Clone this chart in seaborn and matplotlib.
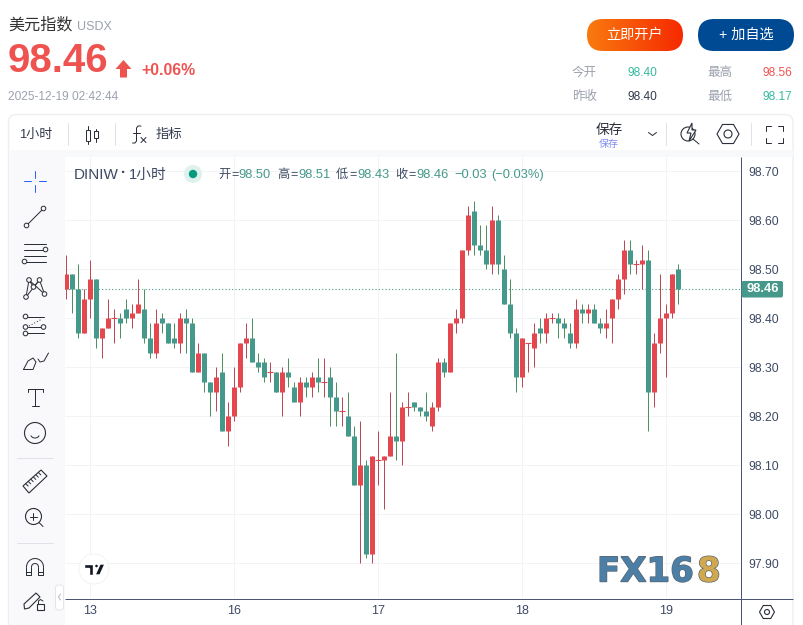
"""Recreates the USDX 1-hour candlestick quote card."""

import matplotlib
matplotlib.use("Agg")
import matplotlib.patheffects as pe
import matplotlib.pyplot as plt
import numpy as np
import pandas as pd
import seaborn as sns
from matplotlib.patches import Circle, FancyBboxPatch, Polygon, Rectangle, RegularPolygon

W, H = 804, 625

opens = [98.46, 98.49, 98.46, 98.37, 98.44, 98.48, 98.36, 98.38, 98.40, 98.40, 98.42, 98.40, 98.41,
         98.42, 98.36, 98.33, 98.40, 98.39, 98.36, 98.35, 98.40, 98.39, 98.29, 98.33, 98.27, 98.25,
         98.29, 98.17, 98.20, 98.26, 98.35, 98.36, 98.31, 98.31, 98.29, 98.29, 98.25, 98.29, 98.26,
         98.23, 98.27, 98.26, 98.28, 98.27, 98.28, 98.24, 98.21, 98.20, 98.16, 98.06, 98.10, 97.92,
         98.11, 98.11, 98.12, 98.16, 98.15, 98.22, 98.23, 98.22, 98.21, 98.18, 98.22, 98.31, 98.29,
         98.39, 98.40, 98.54, 98.62, 98.55, 98.54, 98.51, 98.60, 98.50, 98.43, 98.37, 98.28, 98.35,
         98.34, 98.38, 98.37, 98.40, 98.40, 98.39, 98.37, 98.35, 98.42, 98.41, 98.42, 98.39, 98.38,
         98.40, 98.44, 98.48, 98.54, 98.51, 98.51, 98.52, 98.25, 98.35, 98.40, 98.41, 98.50]
closes = [98.49, 98.46, 98.37, 98.44, 98.48, 98.36, 98.38, 98.40, 98.40, 98.39, 98.40, 98.41, 98.43,
          98.36, 98.33, 98.39, 98.39, 98.35, 98.35, 98.40, 98.39, 98.29, 98.33, 98.27, 98.25, 98.28,
          98.17, 98.20, 98.26, 98.35, 98.36, 98.31, 98.30, 98.28, 98.29, 98.25, 98.29, 98.28, 98.23,
          98.27, 98.26, 98.28, 98.27, 98.27, 98.24, 98.21, 98.21, 98.16, 98.06, 98.10, 97.92, 98.12,
          98.11, 98.12, 98.16, 98.15, 98.22, 98.22, 98.22, 98.21, 98.20, 98.22, 98.31, 98.29, 98.39,
          98.40, 98.54, 98.61, 98.55, 98.54, 98.51, 98.60, 98.51, 98.43, 98.37, 98.28, 98.36, 98.35,
          98.37, 98.37, 98.40, 98.40, 98.39, 98.38, 98.35, 98.42, 98.41, 98.42, 98.39, 98.38, 98.39,
          98.44, 98.48, 98.54, 98.51, 98.51, 98.52, 98.25, 98.35, 98.40, 98.41, 98.49, 98.46]
highs = [98.53, 98.49, 98.51, 98.46, 98.52, 98.48, 98.38, 98.44, 98.42, 98.41, 98.44, 98.43, 98.48,
         98.46, 98.39, 98.42, 98.41, 98.39, 98.39, 98.41, 98.42, 98.40, 98.35, 98.33, 98.27, 98.30,
         98.33, 98.23, 98.30, 98.35, 98.39, 98.40, 98.33, 98.32, 98.31, 98.29, 98.30, 98.32, 98.27,
         98.28, 98.28, 98.29, 98.32, 98.32, 98.30, 98.27, 98.24, 98.25, 98.18, 98.19, 98.11, 98.12,
         98.17, 98.12, 98.25, 98.33, 98.23, 98.25, 98.23, 98.22, 98.25, 98.23, 98.32, 98.32, 98.39,
         98.42, 98.54, 98.63, 98.64, 98.59, 98.59, 98.63, 98.61, 98.53, 98.48, 98.38, 98.36, 98.35,
         98.39, 98.40, 98.41, 98.41, 98.41, 98.40, 98.39, 98.44, 98.43, 98.43, 98.43, 98.40, 98.42,
         98.44, 98.49, 98.56, 98.56, 98.52, 98.55, 98.54, 98.37, 98.49, 98.43, 98.49, 98.51]
lows = [98.44, 98.41, 98.36, 98.37, 98.40, 98.34, 98.32, 98.38, 98.35, 98.36, 98.39, 98.38, 98.41,
        98.35, 98.32, 98.32, 98.37, 98.35, 98.34, 98.33, 98.33, 98.29, 98.29, 98.25, 98.20, 98.21,
        98.17, 98.14, 98.19, 98.25, 98.32, 98.31, 98.29, 98.27, 98.27, 98.25, 98.20, 98.26, 98.23,
        98.20, 98.24, 98.24, 98.25, 98.24, 98.18, 98.18, 98.18, 98.16, 98.06, 97.90, 97.91, 97.90,
        98.06, 98.01, 98.12, 98.11, 98.10, 98.20, 98.21, 98.20, 98.19, 98.17, 98.21, 98.28, 98.29,
        98.37, 98.39, 98.53, 98.53, 98.53, 98.50, 98.49, 98.49, 98.43, 98.36, 98.25, 98.26, 98.29,
        98.30, 98.35, 98.35, 98.39, 98.36, 98.36, 98.34, 98.34, 98.39, 98.39, 98.39, 98.37, 98.36,
        98.35, 98.42, 98.45, 98.49, 98.49, 98.46, 98.17, 98.22, 98.33, 98.28, 98.40, 98.43]

price_ticks = [98.70, 98.60, 98.50, 98.40, 98.30, 98.20, 98.10, 98.00, 97.90]
day_positions = [4, 28, 52, 76, 100]
day_labels = ["13", "16", "17", "18", "19"]

RED_BODY, RED_WICK = "#e5474e", "#b94a56"
GREEN_BODY, GREEN_WICK = "#45998a", "#4e9161"
INK = "#3e4a63"
ICON = "#2a2e39"
AXIS_LINE = "#4a5578"
GREY_TEXT = "#9ba1ad"
QUOTE_RED = "#ef5350"
QUOTE_GREEN = "#35b9a0"
FONTS = ["Liberation Sans", "Noto Sans CJK SC"]

sns.set_theme(
    style="whitegrid",
    rc={
        "grid.color": "#f2f3f5",
        "grid.linewidth": 0.72,
        "lines.solid_capstyle": "butt",
        "savefig.facecolor": "white",
    },
)
plt.rcParams["font.family"] = FONTS

fig = plt.figure(figsize=(W / 100, H / 100), dpi=100, facecolor="white")


def pixel_axes(left, top, right, bottom, **kws):
    return fig.add_axes([left / W, 1 - bottom / H, (right - left) / W, (bottom - top) / H], **kws)


# ---------------------------------------------------------------------------
# Candles
# ---------------------------------------------------------------------------

candles = pd.DataFrame({"open": opens, "close": closes, "high": highs, "low": lows})
candles["candle"] = candles.index
candles["direction"] = np.where(candles["close"] >= candles["open"], "up", "down")

wicks = candles.melt(id_vars=["candle", "direction"], value_vars=["high", "low"], value_name="price")
solid = candles[candles["open"] != candles["close"]]
bodies = solid.melt(id_vars=["candle", "direction"], value_vars=["open", "close"], value_name="price")
dojis = candles[candles["open"] == candles["close"]]

ax = pixel_axes(65, 157, 741, 598, zorder=1)
sns.lineplot(
    data=wicks, x="candle", y="price", hue="direction", units="candle", estimator=None,
    palette={"up": RED_WICK, "down": GREEN_WICK}, linewidth=0.72, legend=False, ax=ax,
)
sns.lineplot(
    data=bodies, x="candle", y="price", hue="direction", units="candle", estimator=None,
    palette={"up": RED_BODY, "down": GREEN_BODY}, linewidth=3.6, legend=False, ax=ax,
)
sns.scatterplot(data=dojis, x="candle", y="open", marker="_", s=20, color=RED_BODY, linewidth=0.8, ax=ax)

ax.axhline(closes[-1], color=GREEN_BODY, linewidth=0.8, linestyle=(0, (1, 2)), zorder=1.5)
ax.set_xlim(-0.25, 112.42)
ax.set_ylim(98.40 - (598 - 318.3) / 490, 98.40 + (318.3 - 157) / 490)
ax.set_xticks(day_positions, day_labels)
ax.set_yticks(price_ticks, [f"{p:.2f}" for p in price_ticks])
ax.yaxis.tick_right()
ax.set_xlabel("")
ax.set_ylabel("")
ax.tick_params(axis="x", length=0, pad=5, labelsize=9, labelcolor=INK)
ax.tick_params(axis="y", length=0, pad=5.2, labelsize=8.8, labelcolor=INK)
sns.despine(ax=ax, left=True, right=True, top=True, bottom=True)

# ---------------------------------------------------------------------------
# Page chrome, drawn on a full-size pixel overlay
# ---------------------------------------------------------------------------

ui = fig.add_axes([0, 0, 1, 1], zorder=2, facecolor="none")
ui.set_xlim(0, W)
ui.set_ylim(H, 0)
ui.axis("off")


def label(x, y, s, size, color, ha="left", weight="normal", family=FONTS):
    return ui.text(x, y, s, fontsize=size, color=color, ha=ha, va="center", fontweight=weight, family=family)


def seg(xs, ys, lw=1.0, color=ICON, **kws):
    ui.plot(xs, ys, color=color, linewidth=lw * 0.72, solid_capstyle="round", **kws)


def ring(x, y, r=2.3, lw=1.0, color=ICON, face="#f9f9fb"):
    ui.add_patch(Circle((x, y), r, facecolor=face, edgecolor=color, linewidth=lw * 0.72, zorder=4))


def pill(x0, y0, x1, y1, radius, face="none", edge="none", lw=0.72, zorder=2):
    patch = FancyBboxPatch(
        (x0, y0), x1 - x0, y1 - y0, boxstyle=f"round,pad=0,rounding_size={radius}",
        facecolor=face, edgecolor=edge, linewidth=lw, zorder=zorder,
    )
    ui.add_patch(patch)
    return patch


def hexagon(x, y, r, inner):
    ui.add_patch(RegularPolygon((x, y), 6, radius=r, orientation=np.pi / 6, facecolor="none",
                                edgecolor=ICON, linewidth=0.8))
    ui.add_patch(Circle((x, y), inner, facecolor="none", edgecolor=ICON, linewidth=0.8))


# panel frame and bands
pill(8.5, 114.5, 793, 640, 8, face="none", edge="#eceef1", lw=1.0, zorder=1)
ui.add_patch(Rectangle((9, 150), 784, 7, facecolor="#f8f9fa", edgecolor="none", zorder=1))
pill(9, 150, 65, 640, 6, face="#f9f9fb", zorder=1)
ui.add_patch(Rectangle((9, 155), 48, 470, facecolor="#f9f9fb", edgecolor="none", zorder=1))

# header
label(8, 25, "美元指数", 11.6, "#333333")
label(77, 26.5, "USDX", 9, GREY_TEXT)
label(7.5, 61.5, "98.46", 29, QUOTE_RED, weight="bold")
ui.add_patch(Polygon([(123.5, 60), (131.5, 69), (127, 69), (127, 77.5), (120, 77.5), (120, 69), (115.5, 69)],
                     facecolor=QUOTE_RED, edgecolor="none"))
label(141, 70.5, "+0.06%", 11.4, QUOTE_RED, weight="bold")
label(8, 97, "2025-12-19 02:42:44", 8.6, GREY_TEXT)

# buttons
gradient = np.linspace(0, 1, 96)[None, :, None]
start, stop = np.array([0.976, 0.478, 0.059]), np.array([0.965, 0.161, 0.0])
image = ui.imshow(start + gradient * (stop - start), extent=(587, 683, 51, 19), aspect="auto", zorder=2)
image.set_clip_path(pill(587, 19, 683, 51, 16, face="none"))
ui.set_xlim(0, W)
ui.set_ylim(H, 0)
label(635, 35, "立即开户", 10.2, "white", ha="center")
pill(698, 19, 794, 51, 16, face="#004a94")
label(746, 35, "+ 加自选", 10.2, "white", ha="center")

# day stats
for x, y, s, size, color in [
    (572, 73, "今开", 9, GREY_TEXT), (628, 73, "98.40", 8.6, QUOTE_GREEN),
    (707, 73, "最高", 9, GREY_TEXT), (763, 73, "98.56", 8.6, QUOTE_RED),
    (572, 97, "昨收", 9, GREY_TEXT), (628, 97, "98.40", 8.6, "#333a4d"),
    (707, 97, "最低", 9, GREY_TEXT), (763, 97, "98.17", 8.6, QUOTE_GREEN),
]:
    label(x, y, s, size, color)

# top toolbar
label(19, 135, "1小时", 9.4, "#333a4d")
label(156, 135, "指标", 9.6, "#333a4d")
label(609.5, 130, "保存", 9.8, "#2a2e39", ha="center")
label(609, 143.5, "保存", 7.2, "#7f8cf0", ha="center")
for x in (68.5, 115.5, 666.5, 751.5):
    seg([x, x], [123, 145], color="#dfe2e8")
for x0, top, bot, ytop, ybot in [(86.5, 126, 144, 130, 141), (94.5, 129, 142, 131, 138)]:
    seg([x0 + 2, x0 + 2], [top, bot])
    ui.add_patch(Rectangle((x0, ytop), 4, ybot - ytop, facecolor="white", edgecolor=ICON, linewidth=0.72, zorder=3))
seg([141, 138, 136.5, 136.5, 135, 132.5], [126, 126, 128, 141, 143, 143])
seg([133.5, 140], [133, 133])
seg([141, 146], [137.5, 142.5])
seg([146, 141], [137.5, 142.5])
seg([648.5, 652.5, 656.5], [132.5, 135.5, 132.5])
ui.add_patch(Circle((688, 134), 7, facecolor="none", edgecolor=ICON, linewidth=0.8))
ui.add_patch(Polygon([(692, 123), (687, 133), (691, 133), (689, 141), (696, 130), (692, 130)],
                     facecolor="white", edgecolor=ICON, linewidth=0.8, zorder=3))
seg([693, 699], [139, 144])
hexagon(728, 134, 11, 4)
for sx, sy in [(-1, -1), (1, -1), (-1, 1), (1, 1)]:
    cx, cy = 774.5 + sx * 8.5, 134 + sy * 8.5
    seg([cx, cx, cx - sx * 5], [cy - sy * 5, cy, cy])

# chart legend
label(74, 175, "DINIW", 11, INK)
label(121, 173, "·", 11, INK, weight="bold")
label(129, 175, "1小时", 10.6, INK)
ui.add_patch(Circle((193, 174), 9, facecolor="#dff1ed", edgecolor="none"))
ui.add_patch(Circle((193, 174), 4.2, facecolor="#089981", edgecolor="none"))
for x, s in [(218, "开"), (277, "高"), (336, "低"), (395, "收")]:
    label(x, 175, s, 8.8, INK)
for x, s in [(231, "="), (290, "="), (349, "="), (408, "=")]:
    label(x, 175, s, 9, INK)
for x, s in [(238, "98.50"), (298, "98.51"), (357, "98.43"), (416, "98.46"), (454, "−0.03"), (491, "(−0.03%)")]:
    label(x, 175, s, 9.3, GREEN_BODY)

# right and bottom scale edges
ui.plot([65, 793], [598.5, 598.5], color=AXIS_LINE, linewidth=0.72)
ui.plot([741.5, 741.5], [157, 625], color=AXIS_LINE, linewidth=0.72)
pill(741.5, 281, 783, 297.5, 2, face=GREEN_BODY, zorder=3)
label(763, 289.5, "98.46", 9.3, "white", ha="center", weight="bold").set_zorder(5)
hexagon(767, 612, 7.5, 2.5)

# watermark
shadow = [pe.withStroke(linewidth=1.0, foreground="#5b6470")]
label(597, 572, "FX16", 24.5, "#4c7fa6", weight="bold", family=["DejaVu Sans"]).set_path_effects(shadow)
label(697, 572, "8", 24.5, "#d0a850", weight="bold", family=["DejaVu Sans"]).set_path_effects(shadow)

# chart-library badge
ui.add_patch(Circle((94, 569), 15, facecolor="white", edgecolor="#eff0f3", linewidth=0.5, zorder=2))
ui.add_patch(Polygon([(84, 564), (93, 564), (93, 575), (89, 575), (89, 568), (84, 568)], facecolor="#131722", zorder=3))
ui.add_patch(Circle((96.5, 566), 2, facecolor="#131722", zorder=3))
ui.add_patch(Polygon([(100, 564), (105, 564), (100, 575), (95, 575)], facecolor="#131722", zorder=3))

# left drawing toolbar
seg([35.5, 35.5], [170.5, 177.5], color="#2962ff")
seg([35.5, 35.5], [184.5, 191.5], color="#2962ff")
seg([24.5, 31.5], [181, 181], color="#2962ff")
seg([39.5, 46.5], [181, 181], color="#2962ff")

seg([26.5, 43.5], [225.5, 208.5])
ring(26.5, 225.5)
ring(43.5, 208.5)

for y in (243.5, 249.5, 256, 262):
    seg([24, 46], [y, y])
ring(45.5, 249.5)
ring(24.5, 261.5)

pts = [(26, 297), (29, 280), (33.5, 287), (39.5, 280), (44.5, 294)]
seg([p[0] for p in pts], [p[1] for p in pts])
seg([29, 44.5], [280, 294])
seg([39.5, 26], [280, 297])
for p in pts:
    ring(*p)

seg([26, 44], [316.5, 316.5])
seg([26, 44], [333, 333])
seg([29, 42], [326, 319], linestyle=(0, (1, 2)))
seg([28, 44], [327, 327])
ring(25.5, 316.5)
ring(25.5, 327)
ring(25.5, 333.5)
ring(43.5, 327)

seg([23.5, 33, 36, 33, 28, 23.5], [369.5, 369.5, 362, 358, 361, 369.5])
seg([38, 40, 44, 48.5], [359, 362, 361, 353])

seg([28, 43], [388.5, 388.5])
seg([28, 28], [388.5, 391.5])
seg([43, 43], [388.5, 391.5])
seg([35.5, 35.5], [388.5, 405.5])
seg([32, 39], [405.5, 405.5])

ui.add_patch(Circle((35, 433), 10.5, facecolor="none", edgecolor=ICON, linewidth=0.8))
ui.add_patch(Circle((31, 431), 0.9, facecolor=ICON))
ui.add_patch(Circle((39, 431), 0.9, facecolor=ICON))
mouth = np.linspace(0.15, 0.85, 12) * np.pi
seg(35 + 4.5 * np.cos(mouth), 434 + 4 * np.sin(mouth))

seg([17, 53], [457.5, 457.5], color="#dfe2e8")
seg([17, 53], [542.5, 542.5], color="#dfe2e8")

ui.add_patch(Polygon([(23, 486), (41, 470), (47, 476), (29, 493)], facecolor="none", edgecolor=ICON, linewidth=0.8))
for t in np.linspace(0.15, 0.85, 6):
    x0, y0 = 23 + 18 * t, 486 - 16 * t
    seg([x0, x0 + 2.5], [y0, y0 + 2.5])

ui.add_patch(Circle((33.5, 516.5), 8, facecolor="none", edgecolor=ICON, linewidth=0.8))
seg([30, 37], [516.5, 516.5])
seg([33.5, 33.5], [513, 520])
seg([39, 43], [522.5, 526.5])

arch = np.linspace(np.pi, 2 * np.pi, 16)
seg(35 + 8.5 * np.cos(arch), 567 + 8.5 * np.sin(arch))
seg(35 + 3.5 * np.cos(arch), 567 + 3.5 * np.sin(arch))
seg([26.5, 26.5, 31.5, 31.5], [567, 575, 575, 567])
seg([38.5, 38.5, 43.5, 43.5], [567, 575, 575, 567])
seg([26.5, 31.5], [571.5, 571.5])
seg([38.5, 43.5], [571.5, 571.5])

ui.add_patch(Polygon([(24, 604), (36, 593), (40, 597), (29, 608), (24.5, 609)], facecolor="none",
                     edgecolor=ICON, linewidth=0.8))
ui.add_patch(Rectangle((37, 604), 7.5, 6, facecolor="#f9f9fb", edgecolor=ICON, linewidth=0.8, zorder=3))
seg([38.5, 38.5, 40.5, 43], [604, 601, 599.5, 601])

pill(55.5, 585, 63.5, 610, 3, face="white", edge="#e3e5ea", zorder=3)
seg([60.5, 58.5, 60.5], [594, 597, 600], color="#b5b9c2", zorder=4)

fig.savefig("out.png", dpi=100)
